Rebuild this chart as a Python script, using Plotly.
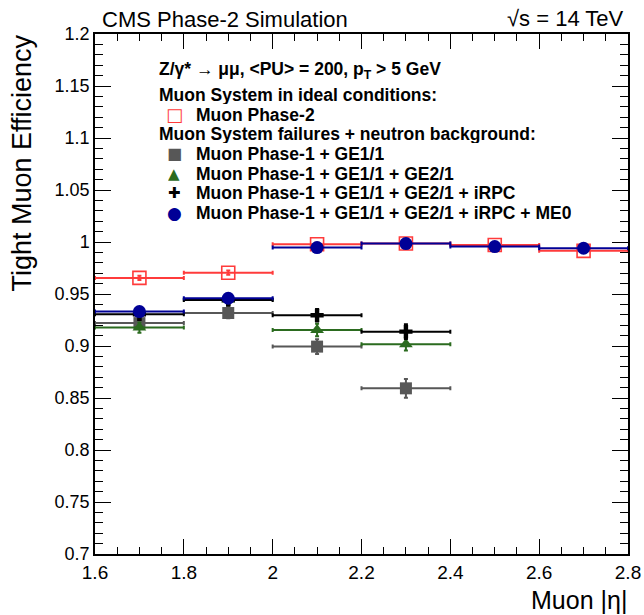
import plotly.graph_objects as go

# ---- data ----
eta_centers = [1.7, 1.9, 2.1, 2.3, 2.5, 2.7]
eta_halfwidth = [0.1, 0.1, 0.1, 0.1, 0.1, 0.1]

phase2 = [0.9655, 0.9705, 0.9978, 0.9985, 0.9971, 0.9915]
phase2_err = [0.002, 0.002, 0.0015, 0.0015, 0.0015, 0.002]

ge11 = [0.922, 0.9317, 0.8994, 0.8593]
ge11_err = [0.005, 0.005, 0.007, 0.009]

ge21 = [0.9177, 0.9447, 0.9154, 0.9016]
ge21_err = [0.005, 0.005, 0.006, 0.006]

irpc = [0.9305, 0.9442, 0.9295, 0.9138]
irpc_err = [0.005, 0.005, 0.006, 0.007]

me0 = [0.9331, 0.9459, 0.9946, 0.9985, 0.9956, 0.994]
me0_err = [0.004, 0.004, 0.002, 0.002, 0.002, 0.002]

yticks = [0.7, 0.75, 0.8, 0.85, 0.9, 0.95, 1.0, 1.05, 1.1, 1.15, 1.2]
yticklabels = ["0.7", "0.75", "0.8", "0.85", "0.9", "0.95", "1", "1.05", "1.1", "1.15", "1.2"]
xticks = [1.6, 1.8, 2.0, 2.2, 2.4, 2.6, 2.8]
xticklabels = ["1.6", "1.8", "2", "2.2", "2.4", "2.6", "2.8"]

legend_header = "Z/γ* → μμ, &lt;PU&gt; = 200, p<sub>T</sub> &gt; 5 GeV"
group1_title = "Muon System in ideal conditions:"
group2_title = "Muon System failures + neutron background:"

FONT = "Liberation Sans"

# name, values, errors, colour, marker, size, legend glyph, legend glyph size
series = [
    ("Muon Phase-2", phase2, phase2_err, "#ff3b3b", "square-open", 13, "□", 18),
    ("Muon Phase-1 + GE1/1", ge11, ge11_err, "#575757", "square", 12, "■", 16),
    ("Muon Phase-1 + GE1/1 + GE2/1", ge21, ge21_err, "#2b6b1f", "triangle-up", 12, "▲", 15),
    ("Muon Phase-1 + GE1/1 + GE2/1 + iRPC", irpc, irpc_err, "#000000", "cross", 11, "✚", 15),
    ("Muon Phase-1 + GE1/1 + GE2/1 + iRPC + ME0", me0, me0_err, "#000096", "circle", 13, "●", 17),
]

fig = go.Figure()
for name, vals, errs, col, sym, size, glyph, gsize in series:
    n = len(vals)
    fig.add_trace(go.Scatter(
        x=eta_centers[:n], y=vals, mode="markers", name=name,
        marker=dict(symbol=sym, size=size, color=col,
                    line=dict(color=col, width=1.6 if sym == "square-open" else 0)),
        error_x=dict(type="data", array=eta_halfwidth[:n], color=col, thickness=2, width=2),
        error_y=dict(type="data", array=errs, color=col, thickness=2, width=2),
        showlegend=False,
    ))

W, H = 644, 615
ML, MR, MT, MB = 95, 16, 34, 61
PW, PH = W - ML - MR, H - MT - MB


def px(x):  # page x -> paper
    return (x - ML) / PW


def py(y):  # page y -> paper
    return (H - MB - y) / PH


axis_common = dict(
    showline=True, linecolor="black", linewidth=1.5, mirror="allticks",
    ticks="inside", tickwidth=1, tickcolor="black",
    showgrid=False, zeroline=False, automargin=False,
)

LEG_SIZE = 17.5
ROW_H = 19
STEP = 19.7
annotations = [
    dict(text="CMS Phase-2 Simulation", x=px(100), y=py(19), xanchor="left", yanchor="middle",
         font=dict(family=FONT, size=22, color="black")),
    dict(text="√s = 14 TeV", x=px(626), y=py(18), xanchor="right", yanchor="middle",
         font=dict(family=FONT, size=22, color="black")),
    dict(text="Tight Muon Efficiency", x=px(21), y=py(33), xanchor="center", yanchor="top",
         textangle=-90, font=dict(family=FONT, size=27, color="black")),
    dict(text="Muon |η|", x=px(629), y=py(600), xanchor="right", yanchor="middle",
         font=dict(family=FONT, size=25, color="black")),
    dict(text=legend_header, x=px(157), y=py(71), xanchor="left", yanchor="middle",
         font=dict(family=FONT, size=LEG_SIZE, color="black", weight="bold")),
    dict(text=group1_title, x=px(157), y=py(212.6 - 6 * STEP), xanchor="left", yanchor="middle",
         height=ROW_H, font=dict(family=FONT, size=LEG_SIZE, color="black", weight="bold")),
    dict(text=group2_title, x=px(157), y=py(212.6 - 4 * STEP), xanchor="left", yanchor="middle",
         height=ROW_H, font=dict(family=FONT, size=LEG_SIZE, color="black", weight="bold")),
]
row_y = [212.6 - 5 * STEP, 212.6 - 3 * STEP, 212.6 - 2 * STEP, 212.6 - STEP, 212.6]
for (name, vals, errs, col, sym, size, glyph, gsize), ry in zip(series, row_y):
    annotations.append(dict(text=glyph, x=px(174), y=py(ry), xanchor="center", yanchor="middle",
                            height=ROW_H,
                            font=dict(family="DejaVu Sans", size=gsize, color=col)))
    annotations.append(dict(text=name, x=px(194), y=py(ry), xanchor="left", yanchor="middle",
                            height=ROW_H,
                            font=dict(family=FONT, size=LEG_SIZE, color="black", weight="bold")))
for a in annotations:
    a.update(xref="paper", yref="paper", showarrow=False)

fig.update_layout(
    width=W, height=H,
    margin=dict(l=ML, r=MR, t=MT, b=MB, autoexpand=False),
    paper_bgcolor="white", plot_bgcolor="white",
    showlegend=False,
    xaxis=dict(range=[1.6, 2.8], tickvals=xticks, ticktext=xticklabels, ticklen=15,
               tickfont=dict(family=FONT, size=19, color="black"),
               minor=dict(dtick=0.05, ticks="inside", ticklen=7, tickcolor="black", showgrid=False),
               **axis_common),
    yaxis=dict(range=[0.7, 1.2], tickvals=yticks, ticktext=yticklabels, ticklen=16,
               tickfont=dict(family=FONT, size=18, color="black"),
               minor=dict(dtick=0.01, ticks="inside", ticklen=8, tickcolor="black", showgrid=False),
               **axis_common),
    annotations=annotations,
)

fig.write_html(
    "out.html",
    config={"displayModeBar": False},
    post_script="document.documentElement.style.margin='0';document.body.style.margin='0';"
                "document.documentElement.style.overflow='hidden';document.body.style.overflow='hidden';",
)
